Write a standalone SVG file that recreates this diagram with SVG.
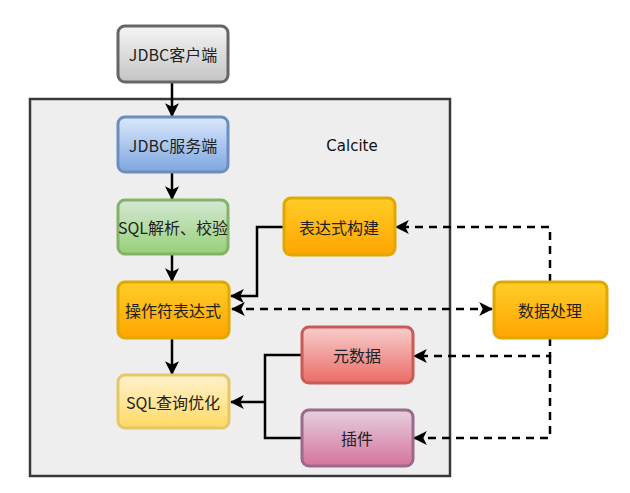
<svg xmlns="http://www.w3.org/2000/svg" width="630" height="493" viewBox="0 0 630 493">
<defs>
<linearGradient id="gGray" x1="0" y1="0" x2="0" y2="1"><stop offset="0" stop-color="#f5f5f5"/><stop offset="1" stop-color="#c4c4c4"/></linearGradient>
<linearGradient id="gBlue" x1="0" y1="0" x2="0" y2="1"><stop offset="0" stop-color="#dae8fc"/><stop offset="1" stop-color="#7ea6e0"/></linearGradient>
<linearGradient id="gGreen" x1="0" y1="0" x2="0" y2="1"><stop offset="0" stop-color="#d5e8d4"/><stop offset="1" stop-color="#97d077"/></linearGradient>
<linearGradient id="gOrange" x1="0" y1="0" x2="0" y2="1"><stop offset="0" stop-color="#ffcd28"/><stop offset="1" stop-color="#ffa500"/></linearGradient>
<linearGradient id="gYellow" x1="0" y1="0" x2="0" y2="1"><stop offset="0" stop-color="#fff2cc"/><stop offset="1" stop-color="#ffd966"/></linearGradient>
<linearGradient id="gRed" x1="0" y1="0" x2="0" y2="1"><stop offset="0" stop-color="#f8cecc"/><stop offset="1" stop-color="#ea6b66"/></linearGradient>
<linearGradient id="gPink" x1="0" y1="0" x2="0" y2="1"><stop offset="0" stop-color="#e6d0de"/><stop offset="1" stop-color="#d5739d"/></linearGradient>
<marker id="arr" viewBox="0 0 12 12" refX="11" refY="6" markerWidth="14" markerHeight="14" markerUnits="userSpaceOnUse" orient="auto-start-reverse">
<path d="M0,0 L12,6 L0,12 L3,6 Z" fill="#000"/>
</marker>
</defs>
<style>
.box{stroke-width:3;}
.lbl{font-family:"Noto Sans CJK SC","DejaVu Sans",sans-serif;font-size:16px;fill:#222;text-anchor:middle;dominant-baseline:central;}
.ln{fill:none;stroke:#000;stroke-width:2.5;}
.dash{fill:none;stroke:#000;stroke-width:2.5;stroke-dasharray:8 6;}
</style>
<rect x="30" y="99" width="420" height="377" fill="#eeeeee" stroke="#36393d" stroke-width="2.5"/>
<text x="352" y="146" font-family="'DejaVu Sans',sans-serif" font-size="15" fill="#111" text-anchor="middle" dominant-baseline="central">Calcite</text>

<g id="connectors">
<path class="ln" d="M172,82 V116" marker-end="url(#arr)"/>
<path class="ln" d="M172,172 V199" marker-end="url(#arr)"/>
<path class="ln" d="M172,254 V281" marker-end="url(#arr)"/>
<path class="ln" d="M172,338 V374" marker-end="url(#arr)"/>
<path class="ln" d="M283,227 H257 V296 H231" marker-end="url(#arr)"/>
<path class="dash" d="M232,309 H492" marker-start="url(#arr)" marker-end="url(#arr)"/>
<path class="dash" d="M550,282 V227 H396" marker-end="url(#arr)"/>
<path class="dash" d="M550,338 V356 H414" marker-end="url(#arr)"/>
<path class="dash" d="M550,356 V438 H414" marker-end="url(#arr)"/>
<path class="ln" d="M302,355 H265 V438 H302"/>
<path class="ln" d="M265,402 H231" marker-end="url(#arr)"/>
</g>

<g id="jdbc-client"><rect class="box" x="118" y="26" width="110" height="56" rx="7" fill="url(#gGray)" stroke="#666666"/><text class="lbl" x="173" y="54">JDBC客户端</text></g>
<g id="jdbc-server"><rect class="box" x="118" y="117" width="110" height="55" rx="7" fill="url(#gBlue)" stroke="#6c8ebf"/><text class="lbl" x="173" y="145">JDBC服务端</text></g>
<g id="sql-parse"><rect class="box" x="118" y="200" width="110" height="54" rx="7" fill="url(#gGreen)" stroke="#82b366"/><text class="lbl" x="173" y="227">SQL解析、校验</text></g>
<g id="operator-expr"><rect class="box" x="118" y="282" width="111" height="56" rx="7" fill="url(#gOrange)" stroke="#e0a800"/><text class="lbl" x="173" y="310">操作符表达式</text></g>
<g id="sql-optimize"><rect class="box" x="118" y="375" width="111" height="53" rx="7" fill="url(#gYellow)" stroke="#e6c766"/><text class="lbl" x="173" y="402">SQL查询优化</text></g>
<g id="expr-build"><rect class="box" x="284" y="198" width="111" height="57" rx="7" fill="url(#gOrange)" stroke="#e0a800"/><text class="lbl" x="339" y="227">表达式构建</text></g>
<g id="metadata"><rect class="box" x="302" y="327" width="111" height="56" rx="7" fill="url(#gRed)" stroke="#c95a55"/><text class="lbl" x="357" y="355">元数据</text></g>
<g id="plugin"><rect class="box" x="302" y="410" width="111" height="56" rx="7" fill="url(#gPink)" stroke="#9a6a8a"/><text class="lbl" x="357" y="438">插件</text></g>
<g id="data-process"><rect class="box" x="494" y="282" width="113" height="56" rx="7" fill="url(#gOrange)" stroke="#e0a800"/><text class="lbl" x="550" y="310">数据处理</text></g>
</svg>
